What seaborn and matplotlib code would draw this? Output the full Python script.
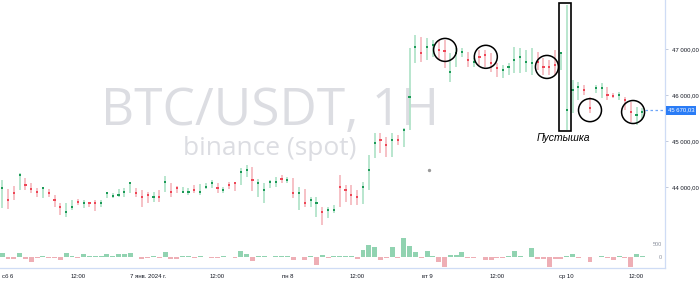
import numpy as np
import pandas as pd
import matplotlib
matplotlib.use("Agg")
import matplotlib.pyplot as plt
import seaborn as sns
from matplotlib.patches import Ellipse, Rectangle
from matplotlib.transforms import blended_transform_factory

# ---------------- data ----------------
times = pd.date_range("2024-01-05 23:00", periods=111, freq="h")

high = [44150, 43960, 44020, 44300, 44200, 44090, 43980, 44000, 43960, 43830,
        43650, 43650, 43720, 43740, 43720, 43670, 43720, 43720, 43890, 43870,
        43960, 43980, 44110, 43980, 43930, 43890, 43890, 43930, 44240, 44090,
        44020, 44000, 43980, 44040, 44070, 44090, 44150, 44090, 44000, 44110,
        44110, 44410, 44480, 44430, 44170, 44090, 44150, 44220, 44260, 44220,
        44200, 44000, 43960, 43780, 43780, 43570, 43570, 43610, 44260, 44040,
        44040, 43930, 44110, 44700, 45170, 45170, 45090, 45170, 45130, 45280,
        47020, 47300, 47260, 47240, 47200, 47200, 47200, 46910, 47020, 47020,
        46930, 46800, 46980, 46980, 46910, 46700, 46650, 46700, 47040, 47020,
        46980, 47020, 46930, 46800, 46760, 46980, 46930, 47960, 46330, 46280,
        46220, 45960, 46220, 46260, 46170, 46040, 46070, 45960, 45850, 45740,
        45720]

low = [43540, 43520, 43720, 43930, 43930, 43870, 43780, 43760, 43780, 43570,
       43390, 43350, 43500, 43610, 43540, 43570, 43480, 43570, 43760, 43760,
       43780, 43780, 43870, 43780, 43570, 43650, 43670, 43670, 43890, 43780,
       43870, 43870, 43830, 43870, 43830, 43960, 43980, 43870, 43870, 43960,
       43910, 44040, 44220, 43910, 43780, 43650, 43980, 44000, 44090, 44090,
       43760, 43500, 43570, 43570, 43350, 43170, 43330, 43430, 43570, 43670,
       43610, 43610, 43630, 43930, 44630, 44740, 44650, 44650, 44910, 44870,
       45240, 46700, 46720, 46760, 46830, 46760, 46590, 46280, 46610, 46830,
       46610, 46610, 46650, 46610, 46500, 46390, 46370, 46430, 46480, 46480,
       46500, 46430, 46540, 46430, 46430, 46430, 46540, 45240, 45610, 45890,
       46000, 45610, 46040, 45930, 45890, 45930, 45890, 45670, 45410, 45350,
       45460]

poc = [43980, 43720, 43870, 44260, 44040, 43960, 43890, 43980, 43870, 43720,
       43570, 43460, 43570, 43670, 43650, 43650, 43650, 43650, 43870, 43800,
       43830, 43890, 44090, 43870, 43780, 43830, 43780, 43780, 44110, 43890,
       43980, 43890, 43890, 43930, 43890, 44000, 44090, 43980, 43930, 44040,
       44090, 44330, 44370, 44150, 44090, 43930, 44110, 44110, 44170, 44150,
       43870, 43870, 43650, 43720, 43650, 43460, 43500, 43500, 44000, 43930,
       43830, 43780, 44000, 44370, 44960, 45020, 44910, 45020, 45020, 45240,
       45960, 47040, 46910, 47040, 47090, 46980, 46960, 46500, 46910, 46930,
       46760, 46720, 46830, 46870, 46700, 46590, 46540, 46610, 46760, 46830,
       46720, 46700, 46720, 46610, 46610, 46650, 46910, 45670, 46110, 46170,
       46110, 45720, 46150, 46150, 46000, 45980, 46000, 45890, 45630, 45570,
       45630]

side = list("grrgrrrgrr" "rggrgrrggg" "gggrrrgrgr" "rggrgggrgr" "rggrggggrg"
            "rgrggrggrr" "rrgggrrgrg" "ggrggrrggg" "rgrrrrgggg" "ggrrrrgggg"
            "rrggrrgrrg" "g")

delta = [150, -60, -60, 140, -90, -180, -40, 50, -40, -50,
         -100, 170, 40, -40, 115, 25, 50, 40, 115, 40,
         115, 115, 140, 15, -60, -25, 25, -50, 205, -75,
         -75, 40, 40, -40, 50, 15, -25, -25, 25, 15,
         -50, 245, 100, -155, 40, 40, 15, 40, 40, 50,
         -100, 15, -100, 50, -310, 90, -40, 50, 50, 40,
         40, -90, 270, 475, 400, -100, -40, 370, -40, 720,
         435, 205, -40, 245, 25, -180, -370, 75, 75, 205,
         -40, -40, 15, -115, -115, -50, -25, 50, 230, 40,
         15, 335, -75, -75, -400, -75, -75, 50, 100, -50,
         15, -205, 15, 40, -50, -115, 50, -40, -400, 130,
         40]

last_price = 45670.03
price_ticks = [44000, 45000, 46000, 47000]
x_tick_labels = ["сб 6", "12:00", "7 янв. 2024 г.", "12:00", "пн 8",
                 "12:00", "вт 9", "12:00", "ср 10", "12:00"]
x_tick_times = pd.date_range("2024-01-06 00:00", periods=10, freq="12h")

# circles (hour offset, price) and the "dummy" box
circle_marks = [(75.1, 46980), (82.1, 46830), (92.6, 46610), (100.0, 45670), (107.4, 45630)]
box_hours = (94.7, 96.7)
box_prices = (45220, 48000)
box_label = "Пустышка"
watermark_1 = "BTC/USDT, 1H"
watermark_2 = "binance (spot)"

# ---------------- frame ----------------
t0 = pd.Timestamp("2024-01-06 00:00")
hours = ((times - t0) / pd.Timedelta(hours=1)).to_numpy()
tick_hours = ((x_tick_times - t0) / pd.Timedelta(hours=1)).to_numpy()

df = pd.DataFrame({"hour": hours, "high": high, "low": low, "poc": poc,
                   "side": side, "delta": delta})
df["vside"] = np.where(df["delta"] >= 0, "up", "down")

sns.set_theme(style="white")
plt.rcParams["font.family"] = ["Liberation Sans", "DejaVu Sans"]

W, H = 700, 282
fig = plt.figure(figsize=(W / 100, H / 100), dpi=100)
fig.patch.set_facecolor("white")
ax = fig.add_axes([0, 14 / H, 665 / W, 268 / H])
ax.set_facecolor("white")

px_per_hour = 5.82
xlim = (-8 / px_per_hour, 657 / px_per_hour)

# volume (delta) pane overlay, drawn on a twin axis
vax = ax.twinx()
vax.set_ylim(-423, 9885)
sns.barplot(data=df, x="hour", y="delta", hue="vside", native_scale=True,
            palette={"up": "#86deb0", "down": "#f9a3ad"}, dodge=False, width=0.85,
            errorbar=None, legend=False, linewidth=0, ax=vax)
vax.set_xlim(*xlim)
vax.set_yticks([])
vax.set_ylabel("")
vax.set_xlabel("")
for s in vax.spines.values():
    s.set_visible(False)
for val, lab in [(500, "500"), (0, "0")]:
    vax.text(662 / 665, val, lab,
             transform=blended_transform_factory(vax.transAxes, vax.transData),
             ha="right", va="center", fontsize=4.0, color="#8a8f9c")

ax.set_xlim(*xlim)
ax.set_ylim(42239, 48065)

# watermark
ax.text(270 / W, 1 - 125 / H, watermark_1, transform=fig.transFigure, ha="center",
        va="baseline", fontsize=37, color="#dcdde2", family=["Open Sans", "DejaVu Sans"],
        zorder=0)
ax.text(270 / W, 1 - 155 / H, watermark_2, transform=fig.transFigure, ha="center",
        va="baseline", fontsize=19, color="#dcdde2", family=["Open Sans", "DejaVu Sans"],
        zorder=0)

# candle ranges (footprint columns)
light = {"g": "#b3e4ca", "r": "#f6bcc2"}
ax.vlines(df["hour"], df["low"], df["high"], colors=[light[s] for s in df["side"]],
          linewidth=1.3, zorder=2)
# points of control
sns.scatterplot(data=df, x="hour", y="poc", hue="side",
                palette={"g": "#1c9a57", "r": "#ee4656"}, marker="s", s=2.5,
                linewidth=0, legend=False, ax=ax, zorder=3)
ax.plot([72.3], [44370], "o", ms=1.4, color="#9a9a9a", zorder=3)

# annotations
for hx, py in circle_marks:
    ax.add_patch(Ellipse((hx, py), width=3.95, height=500, fill=False,
                         edgecolor="black", linewidth=1.1, zorder=5))
ax.add_patch(Rectangle((box_hours[0], box_prices[0]), box_hours[1] - box_hours[0],
                       box_prices[1] - box_prices[0], fill=False, edgecolor="black",
                       linewidth=1.2, zorder=5))
ax.text(95.4, 45065, box_label, ha="center", va="center", fontsize=7.5,
        style="italic", color="black", zorder=5)

# last price line + label
ax.hlines(last_price, hours[-1] + 0.4, xlim[1], colors="#6fa6f8",
          linestyles=(0, (2, 2)), linewidth=0.9, zorder=3)
trans_r = blended_transform_factory(ax.transAxes, ax.transData)
ax.text(1.004, last_price, "45 670,03", transform=trans_r, ha="left", va="center",
        fontsize=4.3, color="white", zorder=6, clip_on=False,
        bbox=dict(boxstyle="square,pad=0.35", facecolor="#2a7cf6", edgecolor="none"))

# axes styling
for s in ["top", "left"]:
    ax.spines[s].set_visible(False)
for s in ["right", "bottom"]:
    ax.spines[s].set_color("#cfdcf5")
    ax.spines[s].set_linewidth(0.9)
ax.yaxis.tick_right()
ax.yaxis.set_label_position("right")
ax.set_yticks(price_ticks)
ax.set_yticklabels([f"{v:,.2f}".replace(",", " ").replace(".", ",") for v in price_ticks])
ax.set_xticks(tick_hours)
ax.set_xticklabels(x_tick_labels)
ax.tick_params(axis="both", labelsize=4.3, labelcolor="#131722", color="#b8c2d6",
               length=2.5, width=0.6, pad=1.5)
ax.tick_params(axis="y", pad=2.5, left=False, labelleft=False, right=True, labelright=True)
ax.set_xlabel("")
ax.set_ylabel("")

fig.savefig("out.png", dpi=100, facecolor="white")
